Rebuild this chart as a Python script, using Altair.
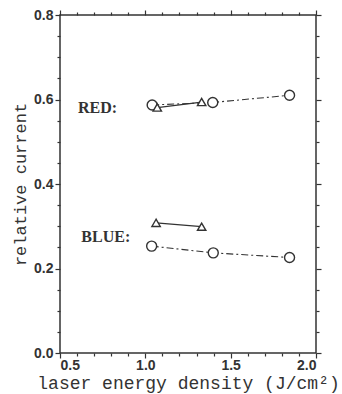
import altair as alt
import pandas as pd

# ---- data ----
red_circle_x = [1.04, 1.395, 1.845]
red_circle_y = [0.587, 0.593, 0.610]
red_tri_x = [1.07, 1.33]
red_tri_y = [0.581, 0.594]
blue_tri_x = [1.063, 1.33]
blue_tri_y = [0.308, 0.299]
blue_circle_x = [1.037, 1.398, 1.845]
blue_circle_y = [0.253, 0.237, 0.226]

label_text = ["RED:", "BLUE:"]
label_x = [0.605, 0.625]
label_y = [0.568, 0.263]

x_major = [0.5, 1.0, 1.5, 2.0]
x_minor = [0.6, 0.7, 0.8, 0.9, 1.1, 1.2, 1.3, 1.4, 1.6, 1.7, 1.8, 1.9]
y_major = [0.0, 0.2, 0.4, 0.6, 0.8]
y_minor = [0.05, 0.1, 0.15, 0.25, 0.3, 0.35, 0.45, 0.5, 0.55, 0.65, 0.7, 0.75]

INK = "#333333"
W, H = 256, 338

rows = []
for xv, yv in zip(red_circle_x, red_circle_y):
    rows.append({"series": "red_circle", "x": xv, "y": yv})
for xv, yv in zip(blue_circle_x, blue_circle_y):
    rows.append({"series": "blue_circle", "x": xv, "y": yv})
circ_df = pd.DataFrame(rows)

rows = []
for xv, yv in zip(red_tri_x, red_tri_y):
    rows.append({"series": "red_tri", "x": xv, "y": yv})
for xv, yv in zip(blue_tri_x, blue_tri_y):
    rows.append({"series": "blue_tri", "x": xv, "y": yv})
tri_df = pd.DataFrame(rows)

lab_df = pd.DataFrame({"text": label_text, "x": label_x, "y": label_y})

xs = alt.Scale(domain=[0.5, 2.0], nice=False, zero=False)
ys = alt.Scale(domain=[0.0, 0.8], nice=False, zero=False)

common_axis = dict(domain=False, grid=False, ticks=True, tickColor=INK,
                   tickWidth=1.2)

# ---- data layers ----
circ_line = alt.Chart(circ_df).mark_line(
    color=INK, strokeWidth=1.1, strokeDash=[7, 3, 2, 3]
).encode(
    x=alt.X("x:Q", scale=xs, axis=None),
    y=alt.Y("y:Q", scale=ys, axis=None),
    detail="series:N",
)
tri_line = alt.Chart(tri_df).mark_line(color=INK, strokeWidth=1.3).encode(
    x=alt.X("x:Q", scale=xs, axis=None),
    y=alt.Y("y:Q", scale=ys, axis=None),
    detail="series:N",
)
circ_pts = alt.Chart(circ_df).mark_point(
    shape="circle", size=100, filled=False, fill="white", fillOpacity=1,
    color=INK, strokeWidth=1.4, opacity=1
).encode(
    x=alt.X("x:Q", scale=xs, axis=None),
    y=alt.Y("y:Q", scale=ys, axis=None),
)
tri_pts = alt.Chart(tri_df).mark_point(
    shape="triangle-up", size=70, filled=False, fill="white", fillOpacity=1,
    color=INK, strokeWidth=1.4, opacity=1
).encode(
    x=alt.X("x:Q", scale=xs, axis=None),
    y=alt.Y("y:Q", scale=ys, axis=None),
)
labels = alt.Chart(lab_df).mark_text(
    align="left", baseline="alphabetic", font="Liberation Serif",
    fontSize=16, fontWeight="bold", color=INK
).encode(
    x=alt.X("x:Q", scale=xs, axis=None),
    y=alt.Y("y:Q", scale=ys, axis=None),
    text="text:N",
)

# ---- axes ----
ax_main = alt.Chart(circ_df).mark_point(opacity=0).encode(
    x=alt.X("x:Q", scale=xs, title="laser energy density (J/cm²)", axis=alt.Axis(
        orient="bottom", values=x_major, format=".1f", tickSize=5,
        labelFlush=True, labelPadding=0, labelFont="Liberation Sans",
        labelFontSize=14, labelFontWeight="bold", labelColor=INK,
        titleFont="Liberation Mono", titleFontSize=18, titleFontWeight="normal",
        titleColor=INK, titleX=W / 2, titleY=35, titleBaseline="alphabetic",
        **common_axis)),
    y=alt.Y("y:Q", scale=ys, title="relative current", axis=alt.Axis(
        orient="left", values=y_major, format=".1f", tickSize=5,
        labelPadding=2, labelFont="Liberation Sans",
        labelFontSize=14, labelFontWeight="bold", labelColor=INK,
        titleFont="Liberation Mono", titleFontSize=17, titleFontWeight="normal",
        titleColor=INK, titleX=-40, titleY=H / 2, titleBaseline="middle",
        titleAngle=270, **common_axis)),
)
ax_minor = alt.Chart(circ_df).mark_point(opacity=0).encode(
    x=alt.X("x:Q", scale=xs, title=None, axis=alt.Axis(
        orient="bottom", values=x_minor, tickSize=3, labels=False,
        **common_axis)),
    y=alt.Y("y:Q", scale=ys, title=None, axis=alt.Axis(
        orient="left", values=y_minor, tickSize=3, labels=False,
        **common_axis)),
)
ax_top_right = alt.Chart(circ_df).mark_point(opacity=0).encode(
    x=alt.X("x:Q", scale=xs, title=None, axis=alt.Axis(
        orient="top", values=x_major, tickSize=5, labels=False,
        **common_axis)),
    y=alt.Y("y:Q", scale=ys, title=None, axis=alt.Axis(
        orient="right", values=y_major, tickSize=5, labels=False,
        **common_axis)),
)
ax_top_right_minor = alt.Chart(circ_df).mark_point(opacity=0).encode(
    x=alt.X("x:Q", scale=xs, title=None, axis=alt.Axis(
        orient="top", values=x_minor, tickSize=3, labels=False,
        **common_axis)),
    y=alt.Y("y:Q", scale=ys, title=None, axis=alt.Axis(
        orient="right", values=y_minor, tickSize=3, labels=False,
        **common_axis)),
)

chart = alt.layer(
    ax_main, ax_minor, ax_top_right, ax_top_right_minor,
    circ_line, tri_line, circ_pts, tri_pts, labels,
).resolve_axis(
    x="independent", y="independent"
).properties(
    width=W, height=H,
    autosize=alt.AutoSizeParams(type="none"),
    padding={"left": 60, "top": 15, "right": 26, "bottom": 41},
    background="white",
).configure_view(
    stroke=INK, strokeWidth=1.5
)

chart.save("out.html", embed_options={"renderer": "svg", "actions": False})
